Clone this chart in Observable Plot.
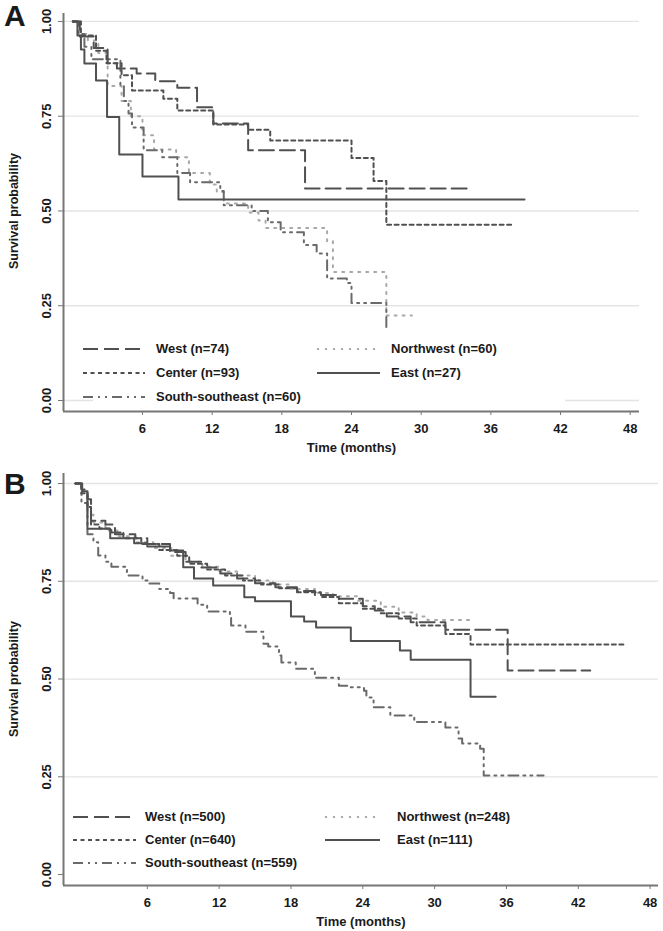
<!DOCTYPE html>
<html>
<head>
<meta charset="utf-8">
<script src="https://cdn.jsdelivr.net/npm/d3@7"></script>
<script src="https://cdn.jsdelivr.net/npm/@observablehq/plot@0.6"></script>
<style>
  html, body { margin: 0; padding: 0; background: #fff; }
  #wrap { position: relative; width: 663px; height: 931px; overflow: hidden; font-family: 'Liberation Sans', Arial, sans-serif; font-weight: bold; color: #1a1a1a; }
  .panel { position: absolute; left: 0; }
  .letter { position: absolute; font-size: 30px; line-height: 30px; font-weight: bold; }
  .legbox { position: absolute; background: #fff; }
  .legitem { position: absolute; height: 16px; display: flex; align-items: center; font-size: 13px; line-height: 16px; white-space: nowrap; }
  .legitem svg { flex: none; }
  svg [aria-label="x-axis tick"], svg [aria-label="y-axis tick"] { stroke: #777; }
</style>
</head>
<body>
<div id="wrap"></div>
<script>
// ---------- Data ----------
const xTicks = [6, 12, 18, 24, 30, 36, 42, 48];
const yTicks = [0, 0.25, 0.5, 0.75, 1];
const gridA = [0, 0.25, 0.5, 0.75, 1];
const gridB = [0.25, 0.5, 0.75, 1];
const seriesNames = ["West", "Center", "South-southeast", "Northwest", "East"];
const countsA = [74, 93, 60, 60, 27];
const countsB = [500, 640, 559, 248, 111];

// Panel A — time (months) and survival probability at each step
const aWestT   = [0, 0.6, 1.8, 3.0, 3.8, 5.5, 7.1, 9.0, 10.7, 12.1, 15.1, 20.0, 34.0];
const aWestS   = [1, 0.96, 0.93, 0.89, 0.876, 0.863, 0.842, 0.825, 0.774, 0.731, 0.66, 0.559, 0.559];
const aCenterT = [0, 0.7, 2.0, 2.9, 4.2, 5.1, 7.8, 9.0, 12.1, 15.1, 17.0, 24.0, 25.9, 27.0, 37.9];
const aCenterS = [1, 0.963, 0.923, 0.89, 0.858, 0.818, 0.796, 0.765, 0.728, 0.714, 0.686, 0.64, 0.579, 0.464, 0.464];
const aSSET    = [0, 0.5, 1.0, 1.6, 4.1, 4.4, 4.8, 5.1, 6.1, 7.7, 9.0, 10.1, 12.7, 13.0, 15.4, 16.8, 17.9, 19.9, 21.0, 21.9, 23.6, 24.0, 27.0];
const aSSES    = [1, 0.967, 0.933, 0.9, 0.83, 0.79, 0.757, 0.72, 0.66, 0.642, 0.60, 0.576, 0.553, 0.515, 0.50, 0.47, 0.444, 0.41, 0.388, 0.322, 0.31, 0.257, 0.19];
const aNWT     = [0, 0.5, 1.3, 2.2, 3.0, 4.2, 5.0, 6.0, 7.0, 8.9, 10.0, 11.8, 12.4, 13.0, 15.1, 16.0, 16.6, 21.9, 22.4, 27.0, 29.2];
const aNWS     = [1, 0.967, 0.95, 0.917, 0.83, 0.79, 0.75, 0.70, 0.662, 0.642, 0.60, 0.57, 0.55, 0.52, 0.496, 0.475, 0.455, 0.42, 0.339, 0.224, 0.224];
const aEastT   = [0, 0.4, 0.7, 1.0, 2.0, 2.95, 4.0, 6.0, 9.1, 38.9];
const aEastS   = [1, 0.963, 0.926, 0.889, 0.844, 0.748, 0.649, 0.591, 0.530, 0.530];

// Panel B
const bWestT   = [0, 0.5, 1.0, 1.3, 2.5, 3.3, 5.0, 6.0, 7.9, 9.2, 10.5, 12.1, 13.5, 15.0, 16.7, 18.5, 20.0, 22.0, 24.0, 25.0, 26.0, 28.0, 30.9, 36.1, 43.0];
const bWestS   = [1, 0.985, 0.96, 0.905, 0.895, 0.87, 0.86, 0.845, 0.825, 0.80, 0.785, 0.77, 0.757, 0.745, 0.735, 0.725, 0.715, 0.705, 0.686, 0.675, 0.66, 0.645, 0.626, 0.522, 0.522];
const bCenterT = [0, 0.5, 1.0, 1.3, 2.0, 3.0, 4.0, 5.5, 7.0, 8.5, 9.5, 11.0, 12.5, 14.0, 15.5, 17.0, 18.5, 20.5, 22.0, 24.0, 25.5, 27.0, 28.5, 30.9, 33.0, 45.8];
const bCenterS = [1, 0.975, 0.94, 0.895, 0.885, 0.875, 0.86, 0.845, 0.83, 0.815, 0.795, 0.78, 0.765, 0.752, 0.742, 0.732, 0.722, 0.71, 0.694, 0.68, 0.668, 0.655, 0.637, 0.615, 0.588, 0.588];
const bSSET    = [0, 0.5, 1.0, 1.5, 1.9, 2.5, 3.0, 4.3, 5.6, 6.1, 7.0, 7.9, 8.2, 10.2, 11.0, 12.9, 13.0, 14.2, 15.7, 16.1, 17.0, 17.2, 18.4, 20.0, 22.0, 22.7, 24.1, 24.3, 24.9, 26.3, 28.3, 30.9, 32.0, 32.3, 33.8, 34.1, 39.1];
const bSSES    = [1, 0.95, 0.87, 0.85, 0.816, 0.80, 0.787, 0.765, 0.752, 0.744, 0.73, 0.72, 0.706, 0.69, 0.673, 0.657, 0.637, 0.621, 0.59, 0.583, 0.56, 0.542, 0.526, 0.503, 0.483, 0.479, 0.47, 0.453, 0.428, 0.407, 0.39, 0.376, 0.348, 0.335, 0.322, 0.253, 0.253];
const bNWT     = [0, 0.5, 1.0, 1.5, 2.5, 3.5, 5.0, 6.5, 8.0, 9.2, 10.6, 12.0, 13.5, 15.0, 16.5, 18.0, 20.0, 21.5, 23.5, 25.5, 27.0, 28.5, 29.4, 33.3];
const bNWS     = [1, 0.97, 0.92, 0.9, 0.88, 0.865, 0.85, 0.835, 0.815, 0.80, 0.787, 0.775, 0.765, 0.752, 0.742, 0.73, 0.72, 0.712, 0.70, 0.685, 0.67, 0.66, 0.651, 0.651];
const bEastT   = [0, 0.56, 1.0, 2.9, 4.9, 6.0, 7.9, 9.0, 9.9, 11.5, 14.1, 15.0, 18.0, 19.1, 20.1, 23.0, 27.1, 28.0, 33.0, 35.1];
const bEastS   = [1, 0.98, 0.884, 0.86, 0.847, 0.839, 0.829, 0.786, 0.757, 0.739, 0.709, 0.699, 0.66, 0.647, 0.632, 0.597, 0.573, 0.549, 0.455, 0.455];

// ---------- Styles ----------
const styles = {
  "West":            {stroke: "#505050", dash: "15,6", width: 2},
  "Center":          {stroke: "#505050", dash: "4,3.5", width: 2},
  "South-southeast": {stroke: "#6a6a6a", dash: "10,5,2,5,2,5", width: 2},
  "Northwest":       {stroke: "#a8a8a8", dash: "2,6", width: 2},
  "East":            {stroke: "#505050", dash: null, width: 2}
};

const toRows = (T, S) => T.map((t, i) => ({t, s: S[i]}));

const seriesA = {
  "West": toRows(aWestT, aWestS), "Center": toRows(aCenterT, aCenterS),
  "South-southeast": toRows(aSSET, aSSES), "Northwest": toRows(aNWT, aNWS), "East": toRows(aEastT, aEastS)
};
const seriesB = {
  "West": toRows(bWestT, bWestS), "Center": toRows(bCenterT, bCenterS),
  "South-southeast": toRows(bSSET, bSSES), "Northwest": toRows(bNWT, bNWS), "East": toRows(bEastT, bEastS)
};

const drawOrder = ["Northwest", "South-southeast", "Center", "West", "East"];

function panel({series, grid, xDomain, yDomain, height, marginTop, marginBottom, marginRight}) {
  const [x0, x1] = xDomain, [y0] = yDomain;
  const marks = [
    Plot.ruleY(grid, {stroke: "#e4e4e4", strokeWidth: 1.3}),
    ...drawOrder.map(name => Plot.line(series[name], {
      x: "t", y: "s", curve: "step-after",
      stroke: styles[name].stroke, strokeWidth: styles[name].width,
      strokeDasharray: styles[name].dash || undefined
    })),
    Plot.ruleX([x0], {stroke: "#777", strokeWidth: 2}),
    Plot.ruleY([y0], {stroke: "#777", strokeWidth: 2}),
    Plot.text(yTicks, {x: () => x0, y: d => d, text: d => d.toFixed(2), rotate: -90, dx: -17, fontSize: 13}),
    Plot.text(["Survival probability"], {x: () => x0, y: () => 0.5, text: d => d, rotate: -90, dx: -50, fontSize: 12.5}),
    Plot.text(["Time (months)"], {x: () => (x0 + x1) / 2, y: () => y0, text: d => d, dy: 36, fontSize: 13})
  ];
  return Plot.plot({
    width: 663, height, marginLeft: 63, marginRight, marginTop, marginBottom,
    style: {fontFamily: "'Liberation Sans', Arial, sans-serif", fontSize: "13px", fontWeight: "bold", color: "#1a1a1a", background: "transparent", overflow: "visible"},
    x: {domain: xDomain, ticks: xTicks, tickSize: 4, tickPadding: 8, label: null},
    y: {domain: yDomain, ticks: yTicks, tickSize: 5, tickFormat: () => "", label: null},
    marks
  });
}

const wrap = document.getElementById("wrap");

const svgA = panel({series: seriesA, grid: gridA, xDomain: [-0.8, 48.8], yDomain: [-0.029, 1.021],
  height: 460, marginTop: 13, marginBottom: 49, marginRight: 24});
svgA.classList.add("panel"); svgA.style.top = "0px";
wrap.appendChild(svgA);

const svgB = panel({series: seriesB, grid: gridB, xDomain: [-1.0, 48.7], yDomain: [-0.028, 1.0256],
  height: 469, marginTop: 11, marginBottom: 46, marginRight: 5});
svgB.classList.add("panel"); svgB.style.top = "462px";
wrap.appendChild(svgB);

// panel letters
function letter(txt, left, top) {
  const d = document.createElement("div");
  d.className = "letter"; d.textContent = txt;
  d.style.left = left + "px"; d.style.top = top + "px";
  wrap.appendChild(d);
}
letter("A", 4, 1);
letter("B", 4, 469);

// legends
function legend(counts, box, cols, rows) {
  const b = document.createElement("div");
  b.className = "legbox";
  Object.assign(b.style, {left: box[0] + "px", top: box[1] + "px", width: box[2] + "px", height: box[3] + "px"});
  wrap.appendChild(b);
  const layout = [[0, 0], [0, 1], [0, 2], [1, 0], [1, 1]];
  seriesNames.forEach((name, i) => {
    const [c, r] = layout[i];
    const col = cols[c];
    const it = document.createElement("div");
    it.className = "legitem";
    it.style.left = col.sx + "px";
    it.style.top = (rows[r] - 8) + "px";
    const len = col.sl;
    const st = styles[name];
    it.innerHTML = `<svg width="${len}" height="16"><line x1="0" x2="${len}" y1="8" y2="8" stroke="${st.stroke}" stroke-width="${st.width}" ${st.dash ? `stroke-dasharray="${st.dash}"` : ""}/></svg>` +
      `<span style="margin-left:${col.gap}px">${name} (n=${counts[i]})</span>`;
    wrap.appendChild(it);
  });
}
legend(countsA, [93, 336, 472, 71], [{sx: 83, sl: 62, gap: 11}, {sx: 317, sl: 63, gap: 11}], [349, 373, 397]);
legend(countsB, [66, 803, 597, 76], [{sx: 73, sl: 63, gap: 9}, {sx: 325, sl: 55, gap: 17}], [817, 840, 863]);
</script>
</body>
</html>
